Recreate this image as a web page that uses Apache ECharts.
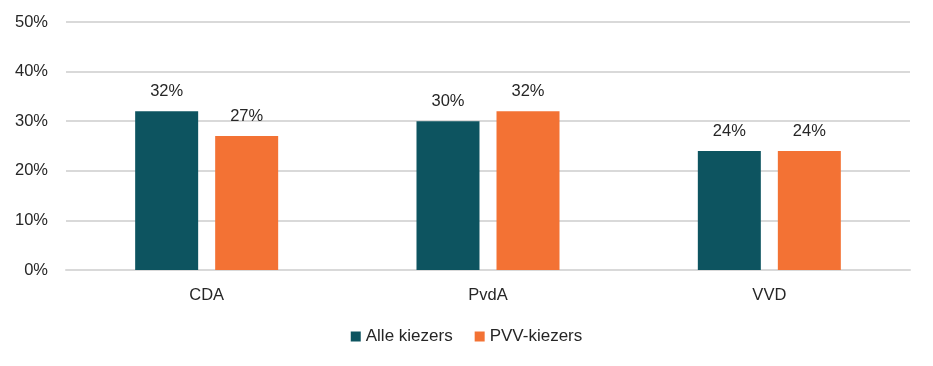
<!DOCTYPE html>
<html><head><meta charset="utf-8">
<script src="https://cdn.jsdelivr.net/npm/echarts@6/dist/echarts.min.js"></script>
<style>html,body{margin:0;padding:0;background:#fff}#c{width:933px;height:366px}</style>
</head><body><div id="c"></div>
<script>
const categories = ['CDA', 'PvdA', 'VVD'];
const alleKiezers = [32, 30, 24];
const pvvKiezers = [27, 32, 24];
const seriesNames = ['Alle kiezers', 'PVV-kiezers'];
const font = 'Liberation Sans, Arial, sans-serif';
const chart = echarts.init(document.getElementById('c'));
const lbl = {show: true, position: 'top', distance: 11, formatter: '{c}%', color: '#262626', fontSize: 16.5, fontFamily: font};
chart.setOption({
  animation: false,
  grid: {left: 66, right: 23, top: 22, bottom: 96},
  legend: {bottom: 16, left: 'center', itemWidth: 10, itemHeight: 10, itemGap: 22, icon: 'rect',
    textStyle: {fontSize: 17, color: '#262626', fontFamily: font}, data: seriesNames},
  xAxis: {type: 'category', data: categories,
    axisLine: {lineStyle: {color: '#d9d9d9', width: 2}}, axisTick: {show: false},
    axisLabel: {fontSize: 16.5, color: '#262626', margin: 17, fontFamily: font}},
  yAxis: {type: 'value', min: 0, max: 50, interval: 10,
    axisLabel: {formatter: '{value}%', fontSize: 16.5, color: '#262626', margin: 18, fontFamily: font},
    splitLine: {lineStyle: {color: '#d9d9d9', width: 2}}, axisLine: {show: false}, axisTick: {show: false}},
  series: [
    {name: seriesNames[0], type: 'bar', data: alleKiezers, barWidth: 63, barGap: '27%', itemStyle: {color: '#0d5460'}, label: lbl},
    {name: seriesNames[1], type: 'bar', data: pvvKiezers, barWidth: 63, itemStyle: {color: '#f37234'}, label: lbl}
  ]
});
</script></body></html>
